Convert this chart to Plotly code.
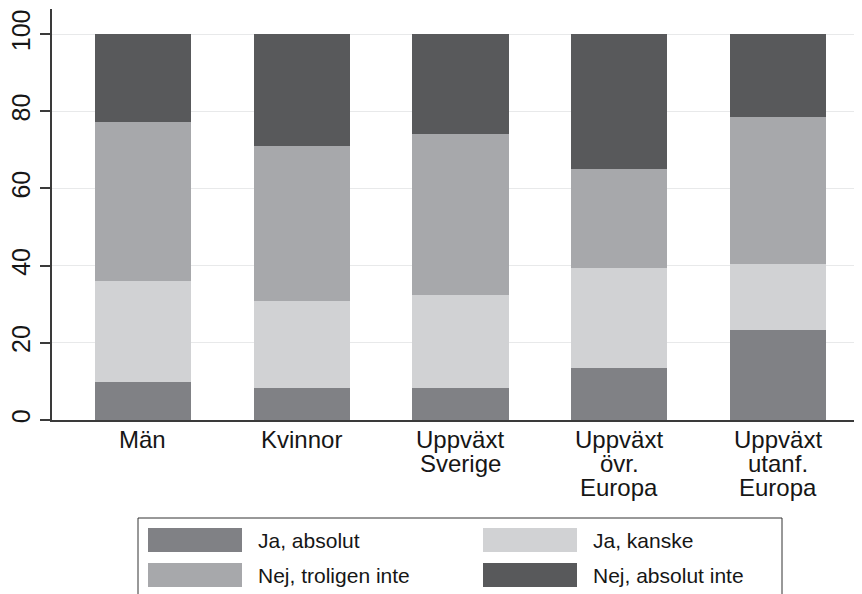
import plotly.graph_objects as go

# ---- data ----
categories = ["Män", "Kvinnor", "Uppväxt\nSverige", "Uppväxt\növr.\nEuropa", "Uppväxt\nutanf.\nEuropa"]
series_names = ["Ja, absolut", "Ja, kanske", "Nej, troligen inte", "Nej, absolut inte"]
ja_absolut = [9.8, 8.3, 8.3, 13.5, 23.3]
ja_kanske = [26.2, 22.5, 24.2, 25.9, 17.1]
nej_troligen_inte = [41.2, 40.2, 41.6, 25.6, 38.1]
nej_absolut_inte = [22.8, 29.0, 25.9, 35.0, 21.5]
y_ticks = [0, 20, 40, 60, 80, 100]

series_values = [ja_absolut, ja_kanske, nej_troligen_inte, nej_absolut_inte]
colors = ["#808185", "#d1d2d4", "#a7a8ab", "#58595b"]

FONT = "Liberation Sans, Arial, sans-serif"
TXT = "#161616"
OFF = 8  # page body margin in the browser
W, H = 862 - OFF, 594 - OFF
L, R, T, B = 52 - OFF, 0, 9 - OFF, 594 - 420
plot_w = W - L - R
plot_h = H - T - B

def px_x(p):
    return (p - OFF - L) / plot_w

def px_y(p):
    return (H - B - (p - OFF)) / plot_h

fig = go.Figure()
for name, vals, col in zip(series_names, series_values, colors):
    fig.add_trace(go.Bar(x=categories, y=vals, name=name,
                         marker=dict(color=col, line=dict(width=0)),
                         showlegend=False))

# x category labels (multi-line, tight spacing)
annotations = []
for cat in categories:
    for i, line in enumerate(cat.split("\n")):
        annotations.append(dict(x=cat, y=0, xref="x", yref="paper",
                                text=line, showarrow=False,
                                xanchor="center", yanchor="middle",
                                yshift=-(19 + 24 * i),
                                font=dict(family=FONT, size=24, color=TXT)))

# legend (drawn as box + swatches + text)
shapes = [dict(type="rect", xref="paper", yref="paper",
               x0=px_x(138), x1=px_x(782), y0=px_y(518), y1=px_y(620),
               line=dict(color="#333333", width=1), fillcolor="rgba(0,0,0,0)")]
leg_pos = [(148, 540), (483, 540), (148, 575), (483, 575)]
for (lx, ly), name, col in zip(leg_pos, series_names, colors):
    shapes.append(dict(type="rect", xref="paper", yref="paper",
                       x0=px_x(lx), x1=px_x(lx + 94), y0=px_y(ly - 12), y1=px_y(ly + 12),
                       line=dict(width=0), fillcolor=col))
    annotations.append(dict(x=px_x(lx + 108), y=px_y(ly), xref="paper", yref="paper",
                            text=name, showarrow=False, xanchor="left", yanchor="middle",
                            font=dict(family=FONT, size=21, color=TXT)))

fig.update_layout(
    width=W, height=H,
    margin=dict(l=L, r=R, t=T, b=B, pad=0, autoexpand=False),
    paper_bgcolor="white", plot_bgcolor="white",
    barmode="stack", bargap=0.395,
    font=dict(family=FONT, size=21, color=TXT),
    shapes=shapes, annotations=annotations,
    xaxis=dict(range=[-0.573, 4.529], showticklabels=False, ticks="",
               showgrid=False, showline=True, linecolor="#3a3a3a", linewidth=2,
               zeroline=False, automargin=False),
    yaxis=dict(range=[0, 106.5], tickvals=y_ticks, tickangle=-90,
               ticks="outside", ticklen=10, tickcolor="#3a3a3a", tickwidth=1.5,
               showline=True, linecolor="#3a3a3a", linewidth=1.5,
               showgrid=True, gridcolor="#e8e9ea", gridwidth=1.2,
               zeroline=False, automargin=False,
               tickfont=dict(family=FONT, size=25, color=TXT)),
)

fig.write_html("out.html")
